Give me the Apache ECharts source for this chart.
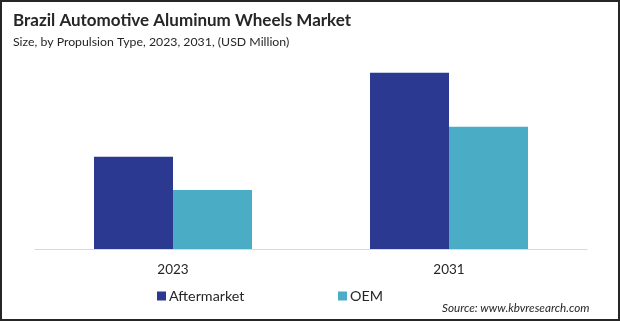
<!DOCTYPE html>
<html>
<head>
<meta charset="utf-8">
<script src="https://cdn.jsdelivr.net/npm/echarts@6/dist/echarts.min.js"></script>
<style>
  html, body { margin: 0; padding: 0; background: #fff; }
  #chart { width: 620px; height: 322px; }
</style>
</head>
<body>
<div id="chart"></div>
<script>
// Market size by propulsion type (USD Million)
const years = ['2023', '2031'];
const aftermarket = [92.3, 176.3];
const oem = [59.0, 122.3];
const seriesNames = ['Aftermarket', 'OEM'];

const FONT = 'Lato, "Open Sans", sans-serif';

const chart = echarts.init(document.getElementById('chart'), null, { renderer: 'canvas' });
chart.setOption({
  animation: false,
  backgroundColor: '#ffffff',
  title: [
    {
      text: 'Brazil Automotive Aluminum Wheels Market',
      left: 8, top: 7,
      textStyle: { fontFamily: FONT, fontSize: 17, fontWeight: 'bold', color: '#262626' }
    },
    {
      text: 'Size, by Propulsion Type, 2023, 2031, (USD Million)',
      left: 8, top: 31,
      textStyle: { fontFamily: FONT, fontSize: 12.3, fontWeight: 'normal', color: '#262626' }
    },
    {
      text: 'Source: www.kbvresearch.com',
      left: 437, top: 297,
      textStyle: { fontFamily: FONT, fontSize: 11.7, fontStyle: 'italic', fontWeight: 'normal', color: '#262626' }
    }
  ],
  legend: [
    {
      data: [seriesNames[0]],
      left: 152, top: 284,
      icon: 'rect', itemWidth: 9, itemHeight: 9, itemGap: 4,
      textStyle: { fontFamily: FONT, fontSize: 14.3, color: '#262626', padding: [0, 0, 0, -2] }
    },
    {
      data: [seriesNames[1]],
      left: 333, top: 284,
      icon: 'rect', itemWidth: 9, itemHeight: 9, itemGap: 4,
      textStyle: { fontFamily: FONT, fontSize: 14.3, color: '#262626', padding: [0, 0, 0, -2] }
    }
  ],
  grid: { left: 35, right: 33, top: 49, bottom: 73, containLabel: false },
  xAxis: {
    type: 'category',
    data: years,
    axisLine: { lineStyle: { color: '#d9d9d9', width: 1 } },
    axisTick: { show: false },
    axisLabel: { fontFamily: FONT, fontSize: 13.5, color: '#262626', margin: 14 }
  },
  yAxis: {
    type: 'value',
    min: 0, max: 200,
    show: false,
    splitLine: { show: false }
  },
  series: [
    {
      name: seriesNames[0], type: 'bar', data: aftermarket,
      barWidth: 79, barGap: '0%',
      itemStyle: { color: '#2b3990' }
    },
    {
      name: seriesNames[1], type: 'bar', data: oem,
      barWidth: 79, barGap: '0%',
      itemStyle: { color: '#4bacc6' }
    }
  ],
  graphic: [
    {
      type: 'rect',
      shape: { x: 1, y: 1, width: 618, height: 319 },
      style: { fill: 'none', stroke: '#262626', lineWidth: 2 },
      silent: true
    }
  ]
});
</script>
</body>
</html>
